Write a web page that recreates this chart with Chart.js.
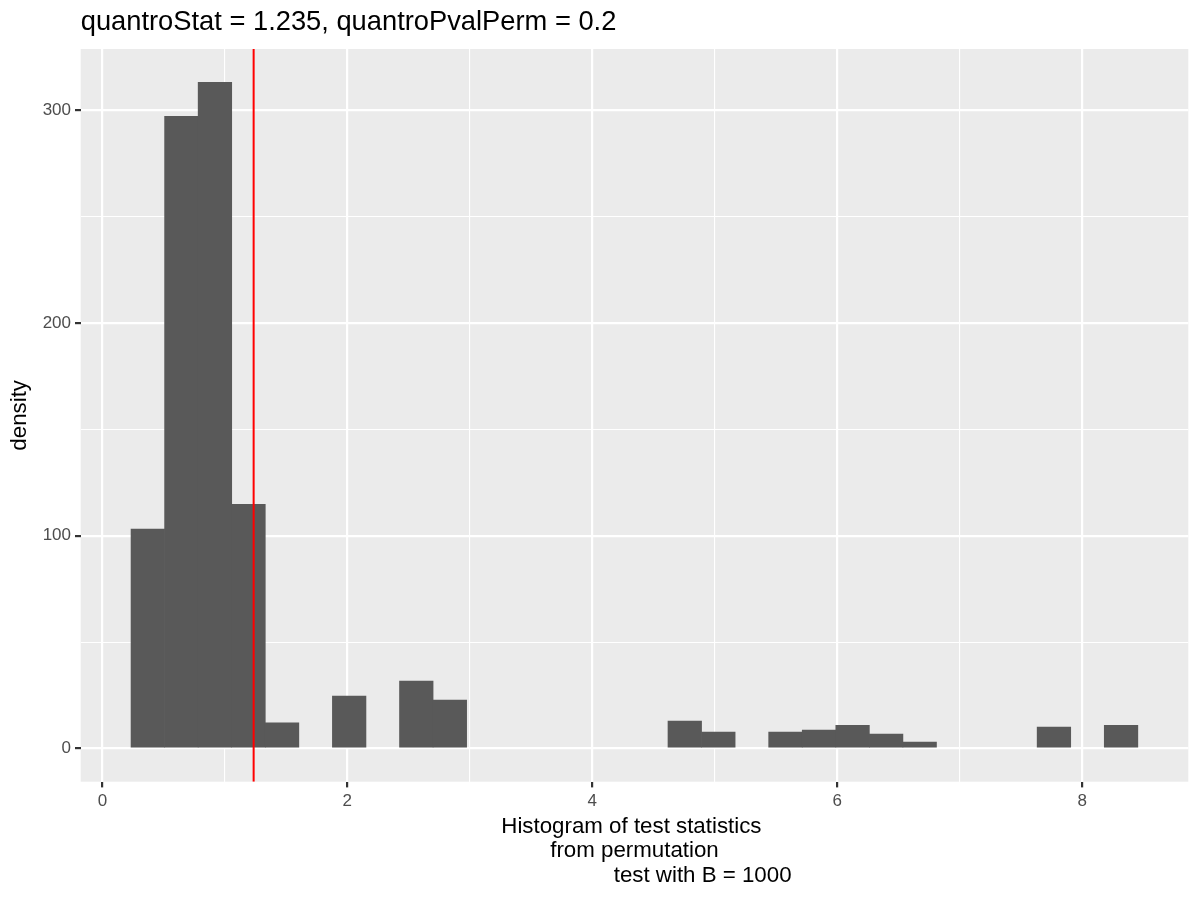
<!DOCTYPE html>
<html>
<head>
<meta charset="utf-8">
<script src="https://cdn.jsdelivr.net/npm/chart.js@4/dist/chart.umd.min.js"></script>
<style>
  html, body { margin: 0; padding: 0; background: #ffffff; }
  canvas { display: block; }
</style>
</head>
<body>
<canvas id="hist" width="1200" height="900"></canvas>
<script>
// histogram bins (mid points) and their density
const binMids = [0.371, 0.645, 0.919, 1.193, 1.467, 1.741, 2.015, 2.289, 2.563, 2.837,
                 3.111, 3.385, 3.659, 3.933, 4.207, 4.481, 4.755, 5.029, 5.303, 5.577,
                 5.851, 6.125, 6.399, 6.673, 6.947, 7.221, 7.495, 7.769, 8.043, 8.317];
const density = [103.1, 297.2, 313.2, 114.8, 12.0, 0, 24.6, 0, 31.6, 22.7,
                 0, 0, 0, 0, 0, 0, 12.8, 7.7, 0, 7.7,
                 8.6, 10.9, 6.7, 3.0, 0, 0, 0, 10.0, 0, 10.9];

const quantroStat = 1.235;

const xBreaks = [0, 2, 4, 6, 8];
const xMinorBreaks = [1, 3, 5, 7];
const yBreaks = [0, 100, 200, 300];
const yMinorBreaks = [50, 150, 250];
const xLimits = [-0.177, 8.866];
const yLimits = [-15.66, 328.86];

const titleText = "quantroStat = 1.235, quantroPvalPerm = 0.2";
const xTitle = ["Histogram of test statistics ",
                "from permutation",
                "                      test with B = 1000"];
const yTitle = "density";

const FONT = "'Liberation Sans', Arial, Helvetica, sans-serif";

/* grey panel like theme_grey */
const panelBg = {
  id: "panelBg",
  beforeDraw(chart) {
    const { ctx, chartArea: a } = chart;
    ctx.save();
    ctx.fillStyle = "#ffffff";
    ctx.fillRect(0, 0, chart.width, chart.height);
    ctx.fillStyle = "#EBEBEB";
    ctx.fillRect(a.left, a.top, a.right - a.left, a.bottom - a.top);
    ctx.restore();
  }
};

function setTicks(major, minor) {
  return scale => {
    scale.ticks = major.concat(minor).sort((a, b) => a - b).map(v => ({ value: v }));
  };
}

function gridOpts(major) {
  return {
    color: "#ffffff",
    lineWidth: c => major.includes(c.tick.value) ? 2.2 : 1.1,
    drawTicks: true,
    tickLength: 5.7,
    tickWidth: 2.2,
    tickColor: c => major.includes(c.tick.value) ? "#333333" : "rgba(0,0,0,0)",
    offset: false
  };
}

new Chart(document.getElementById("hist"), {
  type: "bar",
  data: {
    datasets: [
      {
        type: "line",
        data: [{ x: quantroStat, y: yLimits[0] }, { x: quantroStat, y: yLimits[1] }],
        borderColor: "#FF0000",
        borderWidth: 2,
        pointRadius: 0,
        order: 1
      },
      {
        data: binMids.map((x, i) => ({ x: x, y: density[i] })),
        // empty bins are not drawn at all
        backgroundColor: c => (c.raw && c.raw.y > 0) ? "#595959" : "rgba(0,0,0,0)",
        borderWidth: 0,
        barPercentage: 1,
        categoryPercentage: 1,
        order: 2
      }
    ]
  },
  options: {
    responsive: false,
    animation: false,
    devicePixelRatio: 1,
    layout: { padding: { left: 0, right: 11.7, top: 0, bottom: 0 } },
    plugins: {
      legend: { display: false },
      tooltip: { enabled: false },
      title: {
        display: true,
        text: titleText,
        align: "start",
        fullSize: false,
        color: "#000000",
        font: { family: FONT, size: 27.3, weight: "normal", lineHeight: 1.2 },
        padding: { top: 6, bottom: 10.2 }
      }
    },
    scales: {
      x: {
        type: "linear",
        min: xLimits[0],
        max: xLimits[1],
        offset: false,
        afterBuildTicks: setTicks(xBreaks, xMinorBreaks),
        afterFit: s => { s.height = 118.3; },
        grid: gridOpts(xBreaks),
        border: { display: false },
        ticks: {
          autoSkip: false,
          maxRotation: 0,
          padding: 4,
          color: "#4D4D4D",
          font: { family: FONT, size: 17 },
          callback: v => xBreaks.includes(v) ? String(v) : ""
        },
        title: {
          display: true,
          text: xTitle,
          color: "#000000",
          font: { family: FONT, size: 22.3, lineHeight: "24.8px" },
          padding: { top: 0, bottom: 11.5 }
        }
      },
      y: {
        type: "linear",
        min: yLimits[0],
        max: yLimits[1],
        afterBuildTicks: setTicks(yBreaks, yMinorBreaks),
        afterFit: s => { s.width = 80.7; },
        grid: gridOpts(yBreaks),
        border: { display: false },
        ticks: {
          autoSkip: false,
          padding: 4,
          color: "#4D4D4D",
          font: { family: FONT, size: 17 },
          callback: v => yBreaks.includes(v) ? String(v) : ""
        },
        title: {
          display: true,
          text: yTitle,
          color: "#000000",
          font: { family: FONT, size: 22.3, lineHeight: "24.5px" },
          padding: { top: 7.5, bottom: 0 }
        }
      }
    }
  },
  plugins: [panelBg]
});
</script>
</body>
</html>
